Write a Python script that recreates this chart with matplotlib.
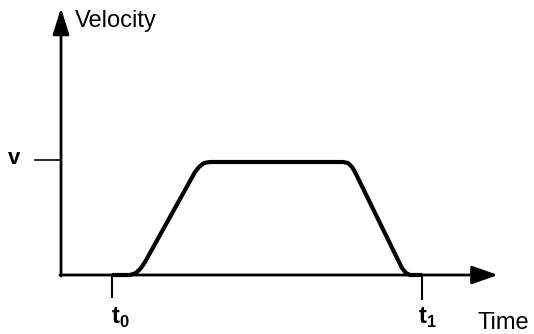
import matplotlib.pyplot as plt

plt.rcParams['font.family'] = ['Liberation Sans', 'DejaVu Sans']
plt.rcParams['mathtext.fontset'] = 'custom'
plt.rcParams['mathtext.rm'] = 'Liberation Sans'
plt.rcParams['mathtext.bf'] = 'Liberation Sans:bold'

# velocity profile (hand-read points, origin at the axes corner)
time_pts = [51, 69, 75, 80, 84, 134, 138, 143, 149, 282, 287, 291, 294, 337, 341, 345, 349, 361]
vel_pts = [0, 0, 2, 7, 13, 103, 108, 112, 113, 113, 112, 108, 103, 15, 7, 2, 0, 0]

v_level = 115
t0 = 51
t1 = 361
x_tip = 437
y_tip = 267

fig = plt.figure(figsize=(5.34, 3.34), dpi=100)
ax = fig.add_axes([0, 0, 1, 1])
ax.set_xlim(-61, 473)
ax.set_ylim(-59, 275)
ax.axis('off')

# axes with arrows
ax.annotate('', xy=(x_tip, 0), xytext=(-1, 0),
            arrowprops=dict(arrowstyle='-|>,head_length=0.8,head_width=0.28',
                            mutation_scale=20, lw=2, color='black',
                            shrinkA=0, shrinkB=0))
ax.annotate('', xy=(0, y_tip), xytext=(0, -1),
            arrowprops=dict(arrowstyle='-|>,head_length=0.8,head_width=0.25',
                            mutation_scale=20, lw=2, color='black',
                            shrinkA=0, shrinkB=0))

# ticks
ax.plot([-26, 0], [v_level, v_level], color='black', lw=1.2)
ax.plot([t0, t0], [0, -22], color='black', lw=1.5)
ax.plot([t1, t1], [0, -24], color='black', lw=1.5)

# the profile
ax.plot(time_pts, vel_pts, color='black', lw=3, solid_joinstyle='round',
        solid_capstyle='butt')

# labels
ax.text(14, 254, 'Velocity', fontsize=17, ha='left', va='center')
ax.text(417, -48, 'Time', fontsize=17, ha='left', va='center')
ax.text(-47, v_level + 1, 'v', fontsize=16, fontweight='bold', ha='center', va='center')
ax.text(t0 - 1, -43, r'$\mathbf{t}_{\mathbf{0}}$', fontsize=17, ha='left', va='center')
ax.text(t1 - 4, -43, r'$\mathbf{t}_{\mathbf{1}}$', fontsize=17, ha='left', va='center')

fig.savefig('out.png', dpi=100)
